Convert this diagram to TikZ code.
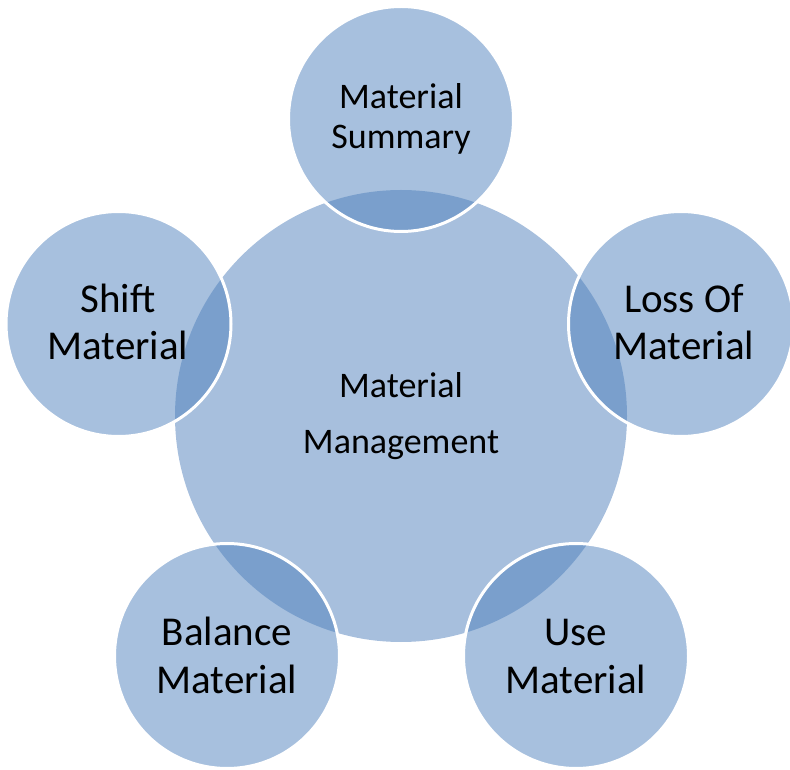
\documentclass[tikz,border=0pt]{standalone}
\usepackage{fontspec}
\setmainfont{Carlito}
\definecolor{hubblue}{HTML}{A7BFDD}
\definecolor{accentblue}{HTML}{4F81BD}
\begin{document}
\begin{tikzpicture}[x=1pt,y=1pt,
  hub/.style={circle, fill=hubblue, inner sep=0pt, outer sep=0pt, minimum size=452pt},
  satellite/.style={circle, fill=accentblue, fill opacity=0.5, draw=white, draw opacity=1, line width=3pt, inner sep=0pt, outer sep=0pt, minimum size=225pt},
  biglabel/.style={anchor=base, inner sep=0pt, font=\fontsize{41}{47}\selectfont, text=black},
  smalllabel/.style={anchor=base, inner sep=0pt, font=\fontsize{36}{42}\selectfont, text=black}]
\useasboundingbox (0,0) rectangle (790,769);
\node[hub] (hubc) at (401,353) {};
\node[satellite] (sumc) at (401,650) {};
\node[satellite] (lossc) at (681,445) {};
\node[satellite] (usec) at (576,113) {};
\node[satellite] (balc) at (227,113) {};
\node[satellite] (shiftc) at (118.5,445) {};
% labels
\node[smalllabel] (hubA) at (401,371) {Material};
\node[smalllabel] (hubB) at (401,315) {Management};
\node[smalllabel] (sumA) at (401,660) {Material};
\node[smalllabel] (sumB) at (401,620) {Summary};
\node[biglabel] (lossA) at (684,456) {Loss Of};
\node[biglabel] (lossB) at (684,409) {Material};
\node[biglabel] (useA) at (576,124) {Use};
\node[biglabel] (useB) at (576,76) {Material};
\node[biglabel] (balA) at (227,124) {Balance};
\node[biglabel] (balB) at (227,76) {Material};
\node[biglabel] (shiftA) at (118,456) {Shift};
\node[biglabel] (shiftB) at (118,409) {Material};
\end{tikzpicture}
\end{document}
